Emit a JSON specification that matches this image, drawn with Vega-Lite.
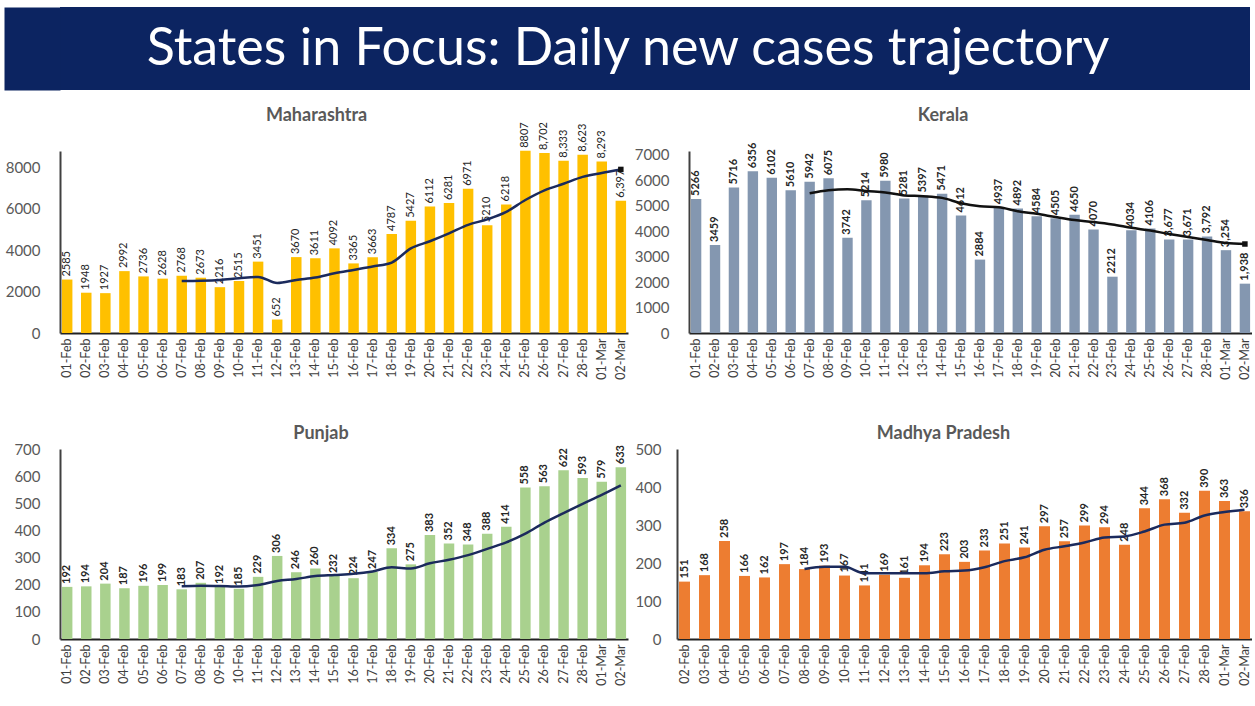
{
  "$schema": "https://vega.github.io/schema/vega-lite/v6.json",
  "background": "white",
  "padding": {"left": 5, "top": 7, "right": 0, "bottom": 0},
  "config": {
    "view": {"stroke": null},
    "font": "Lato",
    "axisX": {"title": null, "ticks": false, "labelAngle": 270, "labelFontSize": 12.5, "labelColor": "#404040", "labelPadding": 5, "domainColor": "#222222", "domainWidth": 2, "grid": false},
    "axisY": {"title": null, "ticks": false, "labelFontSize": 15, "labelColor": "#595959", "labelPadding": 20, "domainColor": "#404040", "domainWidth": 2, "grid": false, "format": "d"},
    "title": {"fontSize": 18, "font": "Lato", "fontWeight": "bold", "color": "#595959", "anchor": "middle", "frame": "bounds"},
    "scale": {"bandPaddingInner": 0.45, "bandPaddingOuter": 0.1}
  },
  "datasets": {
    "mh": [
      {"d": "01-Feb", "v": 2585, "l": "2585", "m": null},
      {"d": "02-Feb", "v": 1948, "l": "1948", "m": null},
      {"d": "03-Feb", "v": 1927, "l": "1927", "m": null},
      {"d": "04-Feb", "v": 2992, "l": "2992", "m": null},
      {"d": "05-Feb", "v": 2736, "l": "2736", "m": null},
      {"d": "06-Feb", "v": 2628, "l": "2628", "m": null},
      {"d": "07-Feb", "v": 2768, "l": "2768", "m": 2512},
      {"d": "08-Feb", "v": 2673, "l": "2673", "m": 2525},
      {"d": "09-Feb", "v": 2216, "l": "2216", "m": 2563},
      {"d": "10-Feb", "v": 2515, "l": "2515", "m": 2647},
      {"d": "11-Feb", "v": 3451, "l": "3451", "m": 2712},
      {"d": "12-Feb", "v": 652, "l": "652", "m": 2415},
      {"d": "13-Feb", "v": 3670, "l": "3670", "m": 2564},
      {"d": "14-Feb", "v": 3611, "l": "3611", "m": 2684},
      {"d": "15-Feb", "v": 4092, "l": "4092", "m": 2887},
      {"d": "16-Feb", "v": 3365, "l": "3365", "m": 3051},
      {"d": "17-Feb", "v": 3663, "l": "3663", "m": 3215},
      {"d": "18-Feb", "v": 4787, "l": "4787", "m": 3406},
      {"d": "19-Feb", "v": 5427, "l": "5427", "m": 4088},
      {"d": "20-Feb", "v": 6112, "l": "6112", "m": 4437},
      {"d": "21-Feb", "v": 6281, "l": "6281", "m": 4818},
      {"d": "22-Feb", "v": 6971, "l": "6971", "m": 5229},
      {"d": "23-Feb", "v": 5210, "l": "5210", "m": 5493},
      {"d": "24-Feb", "v": 6218, "l": "6218", "m": 5857},
      {"d": "25-Feb", "v": 8807, "l": "8807", "m": 6431},
      {"d": "26-Feb", "v": 8702, "l": "8,702", "m": 6899},
      {"d": "27-Feb", "v": 8333, "l": "8,333", "m": 7216},
      {"d": "28-Feb", "v": 8623, "l": "8,623", "m": 7551},
      {"d": "01-Mar", "v": 8293, "l": "8,293", "m": 7740},
      {"d": "02-Mar", "v": 6397, "l": "6,397", "m": 7909}
    ],
    "ke": [
      {"d": "01-Feb", "v": 5266, "l": "5266", "m": null},
      {"d": "02-Feb", "v": 3459, "l": "3459", "m": null},
      {"d": "03-Feb", "v": 5716, "l": "5716", "m": null},
      {"d": "04-Feb", "v": 6356, "l": "6356", "m": null},
      {"d": "05-Feb", "v": 6102, "l": "6102", "m": null},
      {"d": "06-Feb", "v": 5610, "l": "5610", "m": null},
      {"d": "07-Feb", "v": 5942, "l": "5942", "m": 5493},
      {"d": "08-Feb", "v": 6075, "l": "6075", "m": 5609},
      {"d": "09-Feb", "v": 3742, "l": "3742", "m": 5649},
      {"d": "10-Feb", "v": 5214, "l": "5214", "m": 5577},
      {"d": "11-Feb", "v": 5980, "l": "5980", "m": 5524},
      {"d": "12-Feb", "v": 5281, "l": "5281", "m": 5406},
      {"d": "13-Feb", "v": 5397, "l": "5397", "m": 5376},
      {"d": "14-Feb", "v": 5471, "l": "5471", "m": 5309},
      {"d": "15-Feb", "v": 4612, "l": "4612", "m": 5100},
      {"d": "16-Feb", "v": 2884, "l": "2884", "m": 4977},
      {"d": "17-Feb", "v": 4937, "l": "4937", "m": 4937},
      {"d": "18-Feb", "v": 4892, "l": "4892", "m": 4782},
      {"d": "19-Feb", "v": 4584, "l": "4584", "m": 4682},
      {"d": "20-Feb", "v": 4505, "l": "4505", "m": 4555},
      {"d": "21-Feb", "v": 4650, "l": "4650", "m": 4438},
      {"d": "22-Feb", "v": 4070, "l": "4070", "m": 4360},
      {"d": "23-Feb", "v": 2212, "l": "2212", "m": 4264},
      {"d": "24-Feb", "v": 4034, "l": "4034", "m": 4135},
      {"d": "25-Feb", "v": 4106, "l": "4106", "m": 4023},
      {"d": "26-Feb", "v": 3677, "l": "3,677", "m": 3893},
      {"d": "27-Feb", "v": 3671, "l": "3,671", "m": 3774},
      {"d": "28-Feb", "v": 3792, "l": "3,792", "m": 3652},
      {"d": "01-Mar", "v": 3254, "l": "3,254", "m": 3535},
      {"d": "02-Mar", "v": 1938, "l": "1,938", "m": 3496}
    ],
    "pb": [
      {"d": "01-Feb", "v": 192, "l": "192", "m": null},
      {"d": "02-Feb", "v": 194, "l": "194", "m": null},
      {"d": "03-Feb", "v": 204, "l": "204", "m": null},
      {"d": "04-Feb", "v": 187, "l": "187", "m": null},
      {"d": "05-Feb", "v": 196, "l": "196", "m": null},
      {"d": "06-Feb", "v": 199, "l": "199", "m": null},
      {"d": "07-Feb", "v": 183, "l": "183", "m": 194},
      {"d": "08-Feb", "v": 207, "l": "207", "m": 196},
      {"d": "09-Feb", "v": 192, "l": "192", "m": 195},
      {"d": "10-Feb", "v": 185, "l": "185", "m": 193},
      {"d": "11-Feb", "v": 229, "l": "229", "m": 199},
      {"d": "12-Feb", "v": 306, "l": "306", "m": 214},
      {"d": "13-Feb", "v": 246, "l": "246", "m": 221},
      {"d": "14-Feb", "v": 260, "l": "260", "m": 232},
      {"d": "15-Feb", "v": 232, "l": "232", "m": 236},
      {"d": "16-Feb", "v": 224, "l": "224", "m": 240},
      {"d": "17-Feb", "v": 247, "l": "247", "m": 249},
      {"d": "18-Feb", "v": 334, "l": "334", "m": 264},
      {"d": "19-Feb", "v": 275, "l": "275", "m": 260},
      {"d": "20-Feb", "v": 383, "l": "383", "m": 279},
      {"d": "21-Feb", "v": 352, "l": "352", "m": 292},
      {"d": "22-Feb", "v": 348, "l": "348", "m": 309},
      {"d": "23-Feb", "v": 388, "l": "388", "m": 332},
      {"d": "24-Feb", "v": 414, "l": "414", "m": 356},
      {"d": "25-Feb", "v": 558, "l": "558", "m": 388},
      {"d": "26-Feb", "v": 563, "l": "563", "m": 429},
      {"d": "27-Feb", "v": 622, "l": "622", "m": 464},
      {"d": "28-Feb", "v": 593, "l": "593", "m": 498},
      {"d": "01-Mar", "v": 579, "l": "579", "m": 531},
      {"d": "02-Mar", "v": 633, "l": "633", "m": 566}
    ],
    "mp": [
      {"d": "02-Feb", "v": 151, "l": "151", "m": null},
      {"d": "03-Feb", "v": 168, "l": "168", "m": null},
      {"d": "04-Feb", "v": 258, "l": "258", "m": null},
      {"d": "05-Feb", "v": 166, "l": "166", "m": null},
      {"d": "06-Feb", "v": 162, "l": "162", "m": null},
      {"d": "07-Feb", "v": 197, "l": "197", "m": null},
      {"d": "08-Feb", "v": 184, "l": "184", "m": 184},
      {"d": "09-Feb", "v": 193, "l": "193", "m": 190},
      {"d": "10-Feb", "v": 167, "l": "167", "m": 190},
      {"d": "11-Feb", "v": 141, "l": "141", "m": 173},
      {"d": "12-Feb", "v": 169, "l": "169", "m": 173},
      {"d": "13-Feb", "v": 161, "l": "161", "m": 173},
      {"d": "14-Feb", "v": 194, "l": "194", "m": 173},
      {"d": "15-Feb", "v": 223, "l": "223", "m": 178},
      {"d": "16-Feb", "v": 203, "l": "203", "m": 180},
      {"d": "17-Feb", "v": 233, "l": "233", "m": 189},
      {"d": "18-Feb", "v": 251, "l": "251", "m": 205},
      {"d": "19-Feb", "v": 241, "l": "241", "m": 215},
      {"d": "20-Feb", "v": 297, "l": "297", "m": 235},
      {"d": "21-Feb", "v": 257, "l": "257", "m": 244},
      {"d": "22-Feb", "v": 299, "l": "299", "m": 254},
      {"d": "23-Feb", "v": 294, "l": "294", "m": 267},
      {"d": "24-Feb", "v": 248, "l": "248", "m": 270},
      {"d": "25-Feb", "v": 344, "l": "344", "m": 283},
      {"d": "26-Feb", "v": 368, "l": "368", "m": 301},
      {"d": "27-Feb", "v": 332, "l": "332", "m": 306},
      {"d": "28-Feb", "v": 390, "l": "390", "m": 325},
      {"d": "01-Mar", "v": 363, "l": "363", "m": 334},
      {"d": "02-Mar", "v": 336, "l": "336", "m": 340}
    ],
    "banner": [{"t": "States in Focus: Daily new cases trajectory"}]
  },
  "columns": 1,
  "spacing": 16,
  "concat": [
    {
      "width": 1190,
      "height": 83,
      "data": {"name": "banner"},
      "view": {"fill": "#0c2461", "stroke": null},
      "mark": {"type": "text", "color": "white", "font": "Lato", "fontSize": 52, "align": "center", "baseline": "middle", "dx": -27},
      "encoding": {
        "text": {"field": "t"},
        "y": {"field": "t", "type": "nominal", "axis": {"labels": false, "ticks": false, "title": null, "domainColor": "#0c2461", "domainWidth": 56, "offset": 28}}
      }
    },
    {
      "columns": 1,
      "spacing": 45,
      "concat": [
        {
          "spacing": 6,
          "hconcat": [
            {
              "title": {"text": "Maharashtra", "offset": -3},
              "width": 568, "height": 182,
              "data": {"name": "mh"},
              "encoding": {
                "x": {"field": "d", "type": "ordinal", "sort": null},
                "y": {"field": "v", "type": "quantitative", "scale": {"domain": [0, 8800], "nice": false}, "axis": {"values": [0, 2000, 4000, 6000, 8000]}}
              },
              "layer": [
                {"mark": {"type": "bar", "color": "#FFC000"}},
                {"mark": {"type": "text", "angle": 270, "align": "left", "baseline": "middle", "dx": 3, "fontSize": 11, "color": "#262626"}, "encoding": {"text": {"field": "l"}}},
                {"mark": {"type": "line", "color": "#1b2a5c", "strokeWidth": 2.5, "interpolate": "monotone"}, "encoding": {"y": {"field": "m", "type": "quantitative"}}},
                {"transform": [{"filter": "datum.d == '02-Mar'"}], "mark": {"type": "point", "shape": "square", "filled": true, "color": "#111111", "size": 30, "opacity": 1}, "encoding": {"y": {"field": "m", "type": "quantitative"}}}
              ]
            },
            {
              "title": {"text": "Kerala", "offset": 18},
              "width": 563, "height": 182,
              "data": {"name": "ke"},
              "encoding": {
                "x": {"field": "d", "type": "ordinal", "sort": null},
                "y": {"field": "v", "type": "quantitative", "scale": {"domain": [0, 7150], "nice": false}, "axis": {"values": [0, 1000, 2000, 3000, 4000, 5000, 6000, 7000]}}
              },
              "layer": [
                {"mark": {"type": "bar", "color": "#8497B0"}},
                {"mark": {"type": "text", "angle": 270, "align": "left", "baseline": "middle", "dx": 3, "fontSize": 11, "fontWeight": "bold", "color": "#262626"}, "encoding": {"text": {"field": "l"}}},
                {"mark": {"type": "line", "color": "#111111", "strokeWidth": 2.5, "interpolate": "monotone"}, "encoding": {"y": {"field": "m", "type": "quantitative"}}},
                {"transform": [{"filter": "datum.d == '02-Mar'"}], "mark": {"type": "point", "shape": "square", "filled": true, "color": "#111111", "size": 30, "opacity": 1}, "encoding": {"y": {"field": "m", "type": "quantitative"}}}
              ]
            }
          ]
        },
        {
          "spacing": 6,
          "hconcat": [
            {
              "title": {"text": "Punjab", "offset": -1},
              "width": 568, "height": 190,
              "data": {"name": "pb"},
              "encoding": {
                "x": {"field": "d", "type": "ordinal", "sort": null},
                "y": {"field": "v", "type": "quantitative", "scale": {"domain": [0, 700], "nice": false}, "axis": {"values": [0, 100, 200, 300, 400, 500, 600, 700], "labelPadding": 20}}
              },
              "layer": [
                {"mark": {"type": "bar", "color": "#A9D18E"}},
                {"mark": {"type": "text", "angle": 270, "align": "left", "baseline": "middle", "dx": 3, "fontSize": 11, "fontWeight": "bold", "color": "#262626"}, "encoding": {"text": {"field": "l"}}},
                {"mark": {"type": "line", "color": "#1b2a5c", "strokeWidth": 2.5, "interpolate": "monotone"}, "encoding": {"y": {"field": "m", "type": "quantitative"}}}
              ]
            },
            {
              "title": {"text": "Madhya Pradesh", "offset": -1},
              "width": 575, "height": 190,
              "data": {"name": "mp"},
              "encoding": {
                "x": {"field": "d", "type": "ordinal", "sort": null},
                "y": {"field": "v", "type": "quantitative", "scale": {"domain": [0, 500], "nice": false}, "axis": {"values": [0, 100, 200, 300, 400, 500], "labelPadding": 16}}
              },
              "layer": [
                {"mark": {"type": "bar", "color": "#ED7D31"}},
                {"mark": {"type": "text", "angle": 270, "align": "left", "baseline": "middle", "dx": 3, "fontSize": 11, "fontWeight": "bold", "color": "#262626"}, "encoding": {"text": {"field": "l"}}},
                {"mark": {"type": "line", "color": "#1b2a5c", "strokeWidth": 2.5, "interpolate": "monotone"}, "encoding": {"y": {"field": "m", "type": "quantitative"}}}
              ]
            }
          ]
        }
      ]
    }
  ]
}
